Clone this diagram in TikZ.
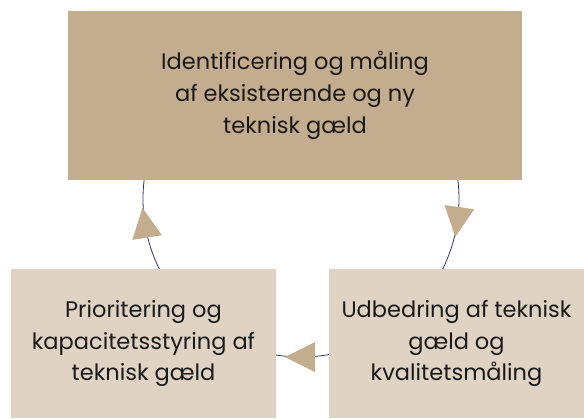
\documentclass[tikz,border=0pt]{standalone}
\usepackage{fontspec}
\setmainfont{Poppins}
\usetikzlibrary{positioning}

\definecolor{darktan}{HTML}{C4AC8E}
\definecolor{lighttan}{HTML}{E0D3C3}
\definecolor{ringblue}{HTML}{2E3868}

% filled tip sitting on the ring, pointing clockwise
\newcommand{\ringtip}[1]{%
\fill [darktan, shift={(hub)}, rotate=#1] (158pt,-16pt) -- (143pt,14pt) -- (173pt,14pt) -- cycle;}

\begin{document}
\begin{tikzpicture}[x=1pt,y=1pt]
\tikzstyle{every node}+=[inner sep=0pt, align=center, text=black!90,
  font=\fontsize{22.5}{31.7}\selectfont]
\tikzstyle{mainbox}=[fill=darktan, minimum width=454pt, minimum height=169pt]
\tikzstyle{stepbox}=[fill=lighttan, minimum height=149pt]
\useasboundingbox (0,0) rectangle (584,-418);
\coordinate (hub) at (301,-199);
\draw [ringblue, line width=0.8pt] (hub) circle (158pt);
\node [mainbox] (ident) at (295,-95.5) {Identificering og måling\\af eksisterende og ny\\teknisk gæld};
\node [stepbox, minimum width=255pt] (fix) at (456.5,-343.5) {Udbedring af teknisk\\gæld og\\kvalitetsmåling};
\node [stepbox, minimum width=265pt] (prio) at (143.5,-343.5) {Prioritering og\\kapacitetsstyring af\\teknisk gæld};
\ringtip{-8}
\ringtip{-90}
\ringtip{189}
\end{tikzpicture}
\end{document}
